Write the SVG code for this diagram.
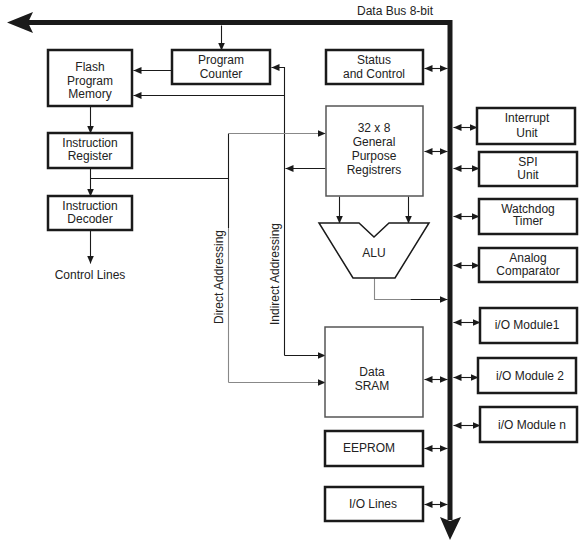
<svg xmlns="http://www.w3.org/2000/svg" width="584" height="550" viewBox="0 0 584 550">
<style>
text{font-family:"Liberation Sans",Arial,sans-serif;font-size:12px;fill:#222;text-anchor:middle;dominant-baseline:central}
.box{fill:#fff;stroke:#1a1a1a;stroke-width:2.5}
.gbox{fill:#fff;stroke:#555;stroke-width:1.5}
.ln{fill:none;stroke:#1a1a1a;stroke-width:1.1}
.gl{fill:none;stroke:#888;stroke-width:1.1}
.a{marker-end:url(#ah)}
.d{marker-end:url(#ah);marker-start:url(#ah)}
</style>
<defs>
<marker id="ah" markerUnits="userSpaceOnUse" markerWidth="9" markerHeight="8" refX="8" refY="4" orient="auto-start-reverse">
<path d="M0,0.5 L8,4 L0,7.5 z" fill="#1a1a1a"/>
</marker>
</defs>
<g id="bus">
<path d="M27,22.5 H450 V520" fill="none" stroke="#1a1a1a" stroke-width="5"/>
<polygon points="7,22.5 33,12 28,22.5 33,33" fill="#1a1a1a"/>
<polygon points="450,540 440,517 450,521 461,517" fill="#1a1a1a"/>
<text x="395" y="11">Data Bus 8-bit</text>
</g>
<g id="connectors">
<g transform="translate(0.5 0.5)">
<path class="ln a" d="M221,25 V50"/>
<path class="ln a" d="M172,70 H133"/>
<path class="ln a" d="M284,95 H133"/>
<path class="ln a" d="M284,355 V67 H271"/>
<path class="ln a" d="M284,355 H325"/>
<path class="ln a" d="M90,106 V133"/>
<path class="ln a" d="M90,168 V196"/>
<path class="ln" d="M90,178 H228"/>
<path class="ln" d="M228,133 V228"/>
<path class="gl" d="M228,228 V382"/>
<path class="gl a" d="M228,382 H325"/>
<path class="gl a" d="M228,133 H325"/>
<path class="ln a" d="M325,168 H285"/>
<path class="ln a" d="M90,230 V263"/>
<path class="ln a" d="M339,196 V223"/>
<path class="ln a" d="M408,196 V223"/>
<path class="gl" d="M374,278 V299 H410"/>
<path class="ln a" d="M410,299 H447"/>
<path class="ln d" d="M424,68 H447"/>
<path class="ln d" d="M424,151 H447"/>
<path class="ln d" d="M424,379 H447"/>
<path class="ln d" d="M424,448 H447"/>
<path class="ln d" d="M424,504 H447"/>
<path class="ln d" d="M453,127 H477"/>
<path class="ln d" d="M453,168 H479"/>
<path class="ln d" d="M453,216 H479"/>
<path class="ln d" d="M453,265 H479"/>
<path class="ln d" d="M453,322 H480"/>
<path class="ln d" d="M453,377 H478"/>
<path class="ln d" d="M453,425 H480"/>
</g>
<text x="219" y="277" transform="rotate(-90 219 277)">Direct Addressing</text>
<text x="275" y="274" transform="rotate(-90 275 274)">Indirect Addressing</text>
</g>
<g id="flash"><rect class="box" x="48" y="50" width="84" height="56"/><text x="90" y="67">Flash</text><text x="90" y="80.5">Program</text><text x="90" y="94">Memory</text></g>
<g id="pc"><rect class="box" x="172" y="50" width="98" height="34"/><text x="221" y="60">Program</text><text x="221" y="73.5">Counter</text></g>
<g id="ir"><rect class="box" x="48" y="133" width="84" height="35"/><text x="90" y="143">Instruction</text><text x="90" y="156">Register</text></g>
<g id="id"><rect class="box" x="48" y="196" width="84" height="34"/><text x="90" y="206">Instruction</text><text x="90" y="218.5">Decoder</text></g>
<g id="ctrl"><text x="90" y="275">Control Lines</text></g>
<g id="status"><rect class="box" x="326" y="50" width="97" height="34"/><text x="374" y="60">Status</text><text x="374" y="73.5">and Control</text></g>
<g id="gpr"><rect class="gbox" x="326" y="106" width="97" height="90"/><text x="374" y="128">32 x 8</text><text x="374" y="142">General</text><text x="374" y="156">Purpose</text><text x="374" y="169.5">Registrers</text></g>
<g id="alu"><path d="M319,223 H359 L374,237 L389,223 H429 L395,278 H353 Z" fill="#fff" stroke="#1a1a1a" stroke-width="1.5" stroke-linejoin="miter"/><text x="374" y="253">ALU</text></g>
<g id="sram"><rect class="gbox" x="325" y="327" width="98" height="90"/><text x="372" y="372">Data</text><text x="372" y="386">SRAM</text></g>
<g id="eeprom"><rect class="box" x="325" y="431" width="98" height="35"/><text x="369" y="448">EEPROM</text></g>
<g id="iolines"><rect class="box" x="325" y="487" width="98" height="34"/><text x="373" y="504">I/O Lines</text></g>
<g id="interrupt"><rect class="box" x="477" y="108" width="98" height="36"/><text x="527" y="118">Interrupt</text><text x="527" y="133">Unit</text></g>
<g id="spi"><rect class="box" x="479" y="152" width="98" height="34"/><text x="528" y="162">SPI</text><text x="528" y="174.5">Unit</text></g>
<g id="wdt"><rect class="box" x="479" y="199" width="98" height="35"/><text x="528" y="208.5">Watchdog</text><text x="528" y="221">Timer</text></g>
<g id="acomp"><rect class="box" x="479" y="248" width="98" height="34"/><text x="528" y="258">Analog</text><text x="528" y="271">Comparator</text></g>
<g id="io1"><rect class="box" x="480" y="308" width="97" height="35"/><text x="527" y="325">i/O Module1</text></g>
<g id="io2"><rect class="box" x="478" y="358" width="98" height="35"/><text x="530" y="376">i/O Module 2</text></g>
<g id="ion"><rect class="box" x="480" y="407" width="97" height="35"/><text x="532" y="425">i/O Module n</text></g>
</svg>
